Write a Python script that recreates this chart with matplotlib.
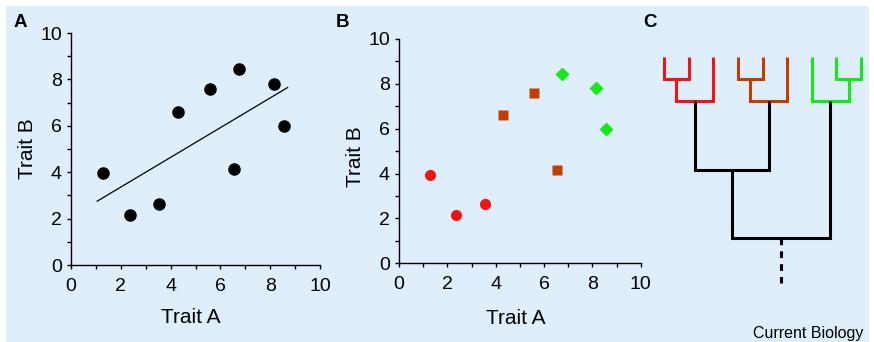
import matplotlib
matplotlib.use("Agg")
import matplotlib.pyplot as plt
from matplotlib.patches import Rectangle
from matplotlib.ticker import MultipleLocator

plt.rcParams["font.family"] = ["Liberation Sans", "DejaVu Sans"]

# --- data ---------------------------------------------------------------
trait_a = [1.3, 2.35, 3.55, 4.3, 5.6, 6.55, 6.75, 8.15, 8.55]
trait_b = [3.95, 2.15, 2.65, 6.6, 7.6, 4.15, 8.45, 7.8, 6.0]
group = [0, 0, 0, 1, 1, 1, 2, 2, 2]

fit_a = [1.05, 8.7]
fit_b = [2.75, 7.65]

group_colors = ["#F21414", "#C53C00", "#14EA14"]
group_markers = ["o", "s", "D"]
group_sizes = [8, 7.2, 7.2]

# tree: node depth below the tips (tips at 0), clade colour
TIP = 0.0
INNER = 1.0
CLADE = 2.0
PAIR = 5.15
ROOT = 8.25
STEM_END = 10.3

BG = "#DEEEFB"
TREE_LW = 2.2


def node(kids, depth, color="black"):
    return {"kids": kids, "h": depth, "color": color}


red_clade = node([node([0, 1], INNER, group_colors[0]), 2], CLADE, group_colors[0])
orange_clade = node([node([3, 4], INNER, group_colors[1]), 5], CLADE, group_colors[1])
green_clade = node([6, node([7, 8], INNER, group_colors[2])], CLADE, group_colors[2])
tree = node([node([red_clade, orange_clade], PAIR), green_clade], ROOT)


def draw_node(ax, n):
    """Draw node n, return (x, depth) of its attachment point."""
    if isinstance(n, int):
        return float(n), TIP
    pts = [draw_node(ax, k) for k in n["kids"]]
    (x1, h1), (x2, h2) = pts
    ax.plot([x1, x1, x2, x2], [h1, n["h"], n["h"], h2], color=n["color"],
            lw=TREE_LW, solid_joinstyle="miter", solid_capstyle="butt",
            clip_on=False)
    return (x1 + x2) / 2, n["h"]


def style_axes(ax):
    ax.set_xlim(0, 10)
    ax.set_ylim(0, 10)
    ax.set_facecolor("none")
    for side in ("top", "right"):
        ax.spines[side].set_visible(False)
    for side in ("left", "bottom"):
        ax.spines[side].set_linewidth(1.0)
    ax.xaxis.set_major_locator(MultipleLocator(2))
    ax.xaxis.set_minor_locator(MultipleLocator(1))
    ax.yaxis.set_major_locator(MultipleLocator(2))
    ax.yaxis.set_minor_locator(MultipleLocator(1))
    ax.tick_params(which="both", direction="out", length=3, width=1.0, color="black")
    ax.tick_params(axis="x", labelsize=14, pad=6.5)
    ax.tick_params(axis="y", labelsize=14, pad=3.5)
    ax.set_xlabel("Trait A", fontsize=15, va="center")
    ax.set_ylabel("Trait B", fontsize=15, va="center")


W, H = 874, 342
fig = plt.figure(figsize=(W / 100, H / 100), dpi=100)
fig.patch.set_facecolor("white")
fig.patches.append(Rectangle((6 / W, 0), (869 - 6) / W, (H - 6) / H,
                             transform=fig.transFigure, facecolor=BG,
                             edgecolor="none", zorder=-10))

# Panel A
ax_a = fig.add_axes([71 / W, 1 - 265 / H, 249 / W, 232 / H])
style_axes(ax_a)
ax_a.plot(trait_a, trait_b, "o", color="black", ms=8, clip_on=False, zorder=3)
ax_a.plot(fit_a, fit_b, color="black", lw=0.9)
ax_a.xaxis.set_label_coords(0.479, -0.2275)
ax_a.yaxis.set_label_coords(-0.175, 0.5)

# Panel B
ax_b = fig.add_axes([399 / W, 1 - 263.3 / H, 241.7 / W, 224.3 / H])
style_axes(ax_b)
for g, (col, mk, ms) in enumerate(zip(group_colors, group_markers, group_sizes)):
    xs = [x for x, gg in zip(trait_a, group) if gg == g]
    ys = [y for y, gg in zip(trait_b, group) if gg == g]
    ax_b.plot(xs, ys, mk, color=col, ms=ms, mec="none", clip_on=False, zorder=3)
ax_b.xaxis.set_label_coords(0.482, -0.244)
ax_b.yaxis.set_label_coords(-0.182, 0.475)

# Panel C: tree (tips 0..8 spaced evenly)
ax_c = fig.add_axes([664 / W, 1 - 283 / H, (861 - 664) / W, (283 - 57) / H])
ax_c.set_xlim(0, 8)
ax_c.set_ylim(STEM_END, TIP)
ax_c.axis("off")
root_x, root_h = draw_node(ax_c, tree)
ax_c.plot([root_x, root_x], [root_h, STEM_END], color="black", lw=TREE_LW,
          ls=(0, (2.2, 2.0)), dash_capstyle="butt", clip_on=False)

# Panel letters and credit
for lbl, x in (("A", 14), ("B", 336), ("C", 643)):
    fig.text(x / W, 1 - 27 / H, lbl, fontsize=13.5, fontweight="bold", va="baseline")
fig.text(863 / W, 1 - 338 / H, "Current Biology", fontsize=11.5, ha="right",
         va="baseline")

fig.savefig("out.png", dpi=100, facecolor=fig.get_facecolor())
